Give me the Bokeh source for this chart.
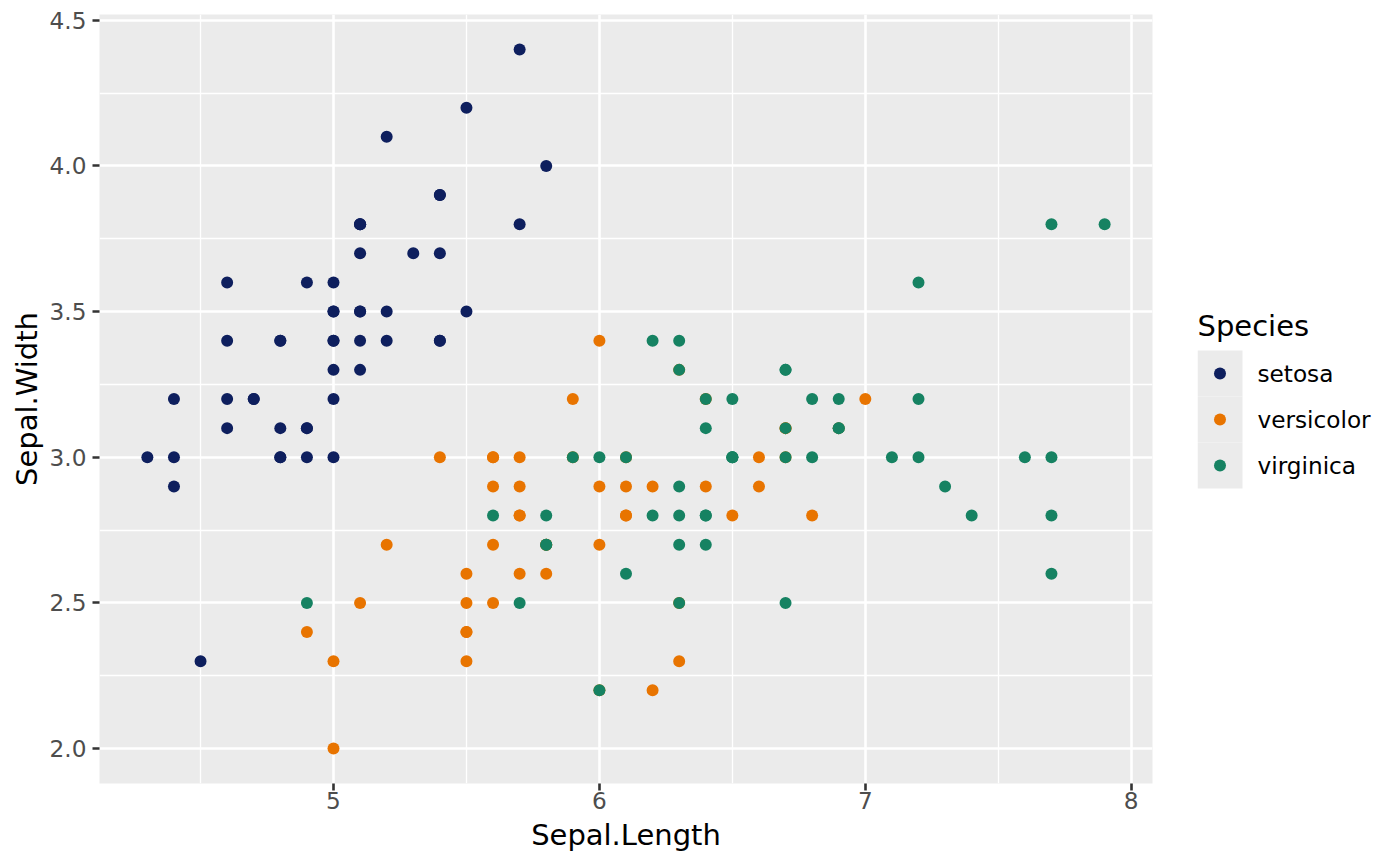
from bokeh.plotting import figure
from bokeh.layouts import row
from bokeh.models import Range1d, FixedTicker, PrintfTickFormatter
from bokeh.core.properties import value
from bokeh.embed import file_html
from bokeh.resources import INLINE

# iris sepal measurements, per species
setosa_length = [5.1, 4.9, 4.7, 4.6, 5.0, 5.4, 4.6, 5.0, 4.4, 4.9, 5.4, 4.8, 4.8, 4.3, 5.8, 5.7, 5.4,
                 5.1, 5.7, 5.1, 5.4, 5.1, 4.6, 5.1, 4.8, 5.0, 5.0, 5.2, 5.2, 4.7, 4.8, 5.4, 5.2, 5.5,
                 4.9, 5.0, 5.5, 4.9, 4.4, 5.1, 5.0, 4.5, 4.4, 5.0, 5.1, 4.8, 5.1, 4.6, 5.3, 5.0]
setosa_width = [3.5, 3.0, 3.2, 3.1, 3.6, 3.9, 3.4, 3.4, 2.9, 3.1, 3.7, 3.4, 3.0, 3.0, 4.0, 4.4, 3.9,
                3.5, 3.8, 3.8, 3.4, 3.7, 3.6, 3.3, 3.4, 3.0, 3.4, 3.5, 3.4, 3.2, 3.1, 3.4, 4.1, 4.2,
                3.1, 3.2, 3.5, 3.6, 3.0, 3.4, 3.5, 2.3, 3.2, 3.5, 3.8, 3.0, 3.8, 3.2, 3.7, 3.3]

versicolor_length = [7.0, 6.4, 6.9, 5.5, 6.5, 5.7, 6.3, 4.9, 6.6, 5.2, 5.0, 5.9, 6.0, 6.1, 5.6, 6.7,
                     5.6, 5.8, 6.2, 5.6, 5.9, 6.1, 6.3, 6.1, 6.4, 6.6, 6.8, 6.7, 6.0, 5.7, 5.5, 5.5,
                     5.8, 6.0, 5.4, 6.0, 6.7, 6.3, 5.6, 5.5, 5.5, 6.1, 5.8, 5.0, 5.6, 5.7, 5.7, 6.2,
                     5.1, 5.7]
versicolor_width = [3.2, 3.2, 3.1, 2.3, 2.8, 2.8, 3.3, 2.4, 2.9, 2.7, 2.0, 3.0, 2.2, 2.9, 2.9, 3.1,
                    3.0, 2.7, 2.2, 2.5, 3.2, 2.8, 2.5, 2.8, 2.9, 3.0, 2.8, 3.0, 2.9, 2.6, 2.4, 2.4,
                    2.7, 2.7, 3.0, 3.4, 3.1, 2.3, 3.0, 2.5, 2.6, 3.0, 2.6, 2.3, 2.7, 3.0, 2.9, 2.9,
                    2.5, 2.8]

virginica_length = [6.3, 5.8, 7.1, 6.3, 6.5, 7.6, 4.9, 7.3, 6.7, 7.2, 6.5, 6.4, 6.8, 5.7, 5.8, 6.4,
                    6.5, 7.7, 7.7, 6.0, 6.9, 5.6, 7.7, 6.3, 6.7, 7.2, 6.2, 6.1, 6.4, 7.2, 7.4, 7.9,
                    6.4, 6.3, 6.1, 7.7, 6.3, 6.4, 6.0, 6.9, 6.7, 6.9, 5.8, 6.8, 6.7, 6.7, 6.3, 6.5,
                    6.2, 5.9]
virginica_width = [3.3, 2.7, 3.0, 2.9, 3.0, 3.0, 2.5, 2.9, 2.5, 3.6, 3.2, 2.7, 3.0, 2.5, 2.8, 3.2,
                   3.0, 3.8, 2.6, 2.2, 3.2, 2.8, 2.8, 2.7, 3.3, 3.2, 2.8, 3.0, 2.8, 3.0, 2.8, 3.8,
                   2.8, 2.8, 2.6, 3.0, 3.4, 3.1, 3.0, 3.1, 3.1, 3.1, 2.7, 3.2, 3.3, 3.0, 2.5, 3.0,
                   3.4, 3.0]

species = ["setosa", "versicolor", "virginica"]
colors = ["#0E1F5E", "#E87400", "#168262"]

x_ticks = [5, 6, 7, 8]
x_minor = [4.5, 5.5, 6.5, 7.5]
y_ticks = [2.0, 2.5, 3.0, 3.5, 4.0, 4.5]
y_minor = [2.25, 2.75, 3.25, 3.75, 4.25]

FONT = "DejaVu Sans"
SMALL = "23.2px"
LARGE = "29px"
H = 854
TOP, BOTTOM = 14, 71

p = figure(width=1160, height=H, output_backend="svg", toolbar_location=None,
           x_range=Range1d(4.12, 8.08), y_range=Range1d(1.88, 4.52),
           min_border_left=99, min_border_right=8, min_border_top=TOP, min_border_bottom=BOTTOM,
           x_axis_label="Sepal.Length", y_axis_label="Sepal.Width")
p.background_fill_color = "#EBEBEB"
p.border_fill_color = "white"
p.outline_line_color = None

p.xaxis.ticker = FixedTicker(ticks=x_ticks, minor_ticks=x_minor)
p.yaxis.ticker = FixedTicker(ticks=y_ticks, minor_ticks=y_minor)
p.yaxis.formatter = PrintfTickFormatter(format="%.1f")

for ax in (p.xaxis, p.yaxis):
    ax.axis_line_color = None
    ax.major_tick_in = 0
    ax.major_tick_out = 7
    ax.major_tick_line_color = "#333333"
    ax.major_tick_line_width = 2.6
    ax.minor_tick_in = 0
    ax.minor_tick_out = 0
    ax.major_label_text_font = FONT
    ax.major_label_text_font_size = SMALL
    ax.major_label_text_color = "#4D4D4D"
    ax.axis_label_text_font = FONT
    ax.axis_label_text_font_size = LARGE
    ax.axis_label_text_font_style = "normal"
    ax.axis_label_text_color = "black"
p.xaxis.major_label_standoff = 1
p.xaxis.axis_label_standoff = 6
p.yaxis.major_label_standoff = 6
p.yaxis.axis_label_standoff = 3

for g in (p.xgrid, p.ygrid):
    g.grid_line_color = "white"
    g.grid_line_width = 2.6
    g.minor_grid_line_color = "white"
    g.minor_grid_line_width = 1.3

groups = [(setosa_length, setosa_width), (versicolor_length, versicolor_width),
          (virginica_length, virginica_width)]
for (xs, ys), c in zip(groups, colors):
    p.scatter(xs, ys, size=12, fill_color=c, line_color=None)

# legend panel: its own figure, same frame height as the plot, y measured in px from the top
leg = figure(width=224, height=H, output_backend="svg", toolbar_location=None,
             x_range=Range1d(0, 187), y_range=Range1d(H - BOTTOM, TOP),
             min_border_left=37, min_border_right=0, min_border_top=TOP, min_border_bottom=BOTTOM)
leg.axis.visible = False
leg.grid.visible = False
leg.outline_line_color = None
leg.background_fill_color = "white"

key_top, key_h, key_w = 350, 46, 45
key_y = [key_top + key_h * (i + 0.5) for i in range(len(species))]

leg.text(x=[0], y=[key_top - 25], text=["Species"], text_baseline="alphabetic",
         text_font=value(FONT), text_font_size=LARGE, text_color="black")
leg.hbar(y=key_y, left=0, right=key_w, height=key_h, fill_color="#EBEBEB", line_color=None)
leg.scatter(x=[key_w / 2] * len(species), y=key_y, size=12, fill_color=colors, line_color=None)
leg.text(x=[60] * len(species), y=key_y, text=species, text_baseline="middle",
         text_font=value(FONT), text_font_size=SMALL, text_color="black")

layout = row(p, leg)
open("out.html", "w").write(file_html(layout, INLINE))
